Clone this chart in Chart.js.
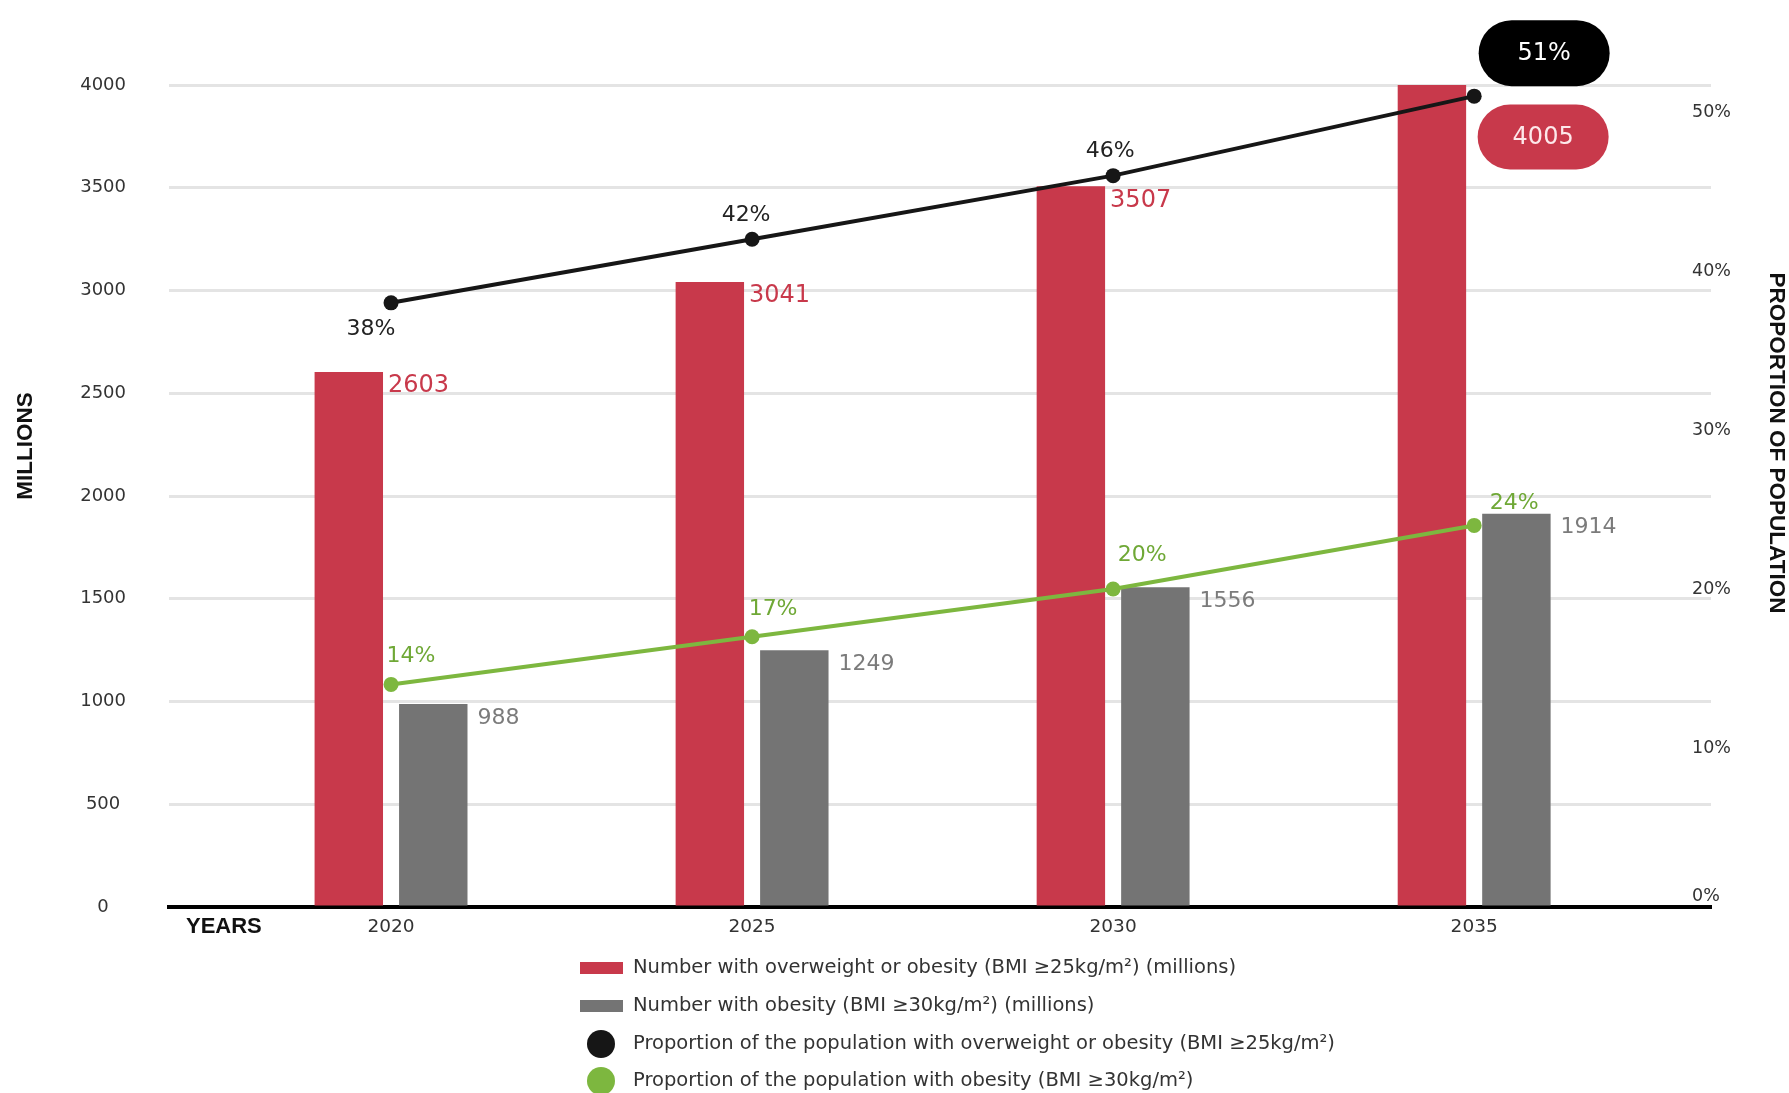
<!DOCTYPE html>
<html>
<head>
<meta charset="utf-8">
<script src="https://cdn.jsdelivr.net/npm/chart.js@4.4.1/dist/chart.umd.min.js"></script>
<style>
  html, body { margin: 0; padding: 0; background: #fff; }
  #wrap { width: 1789px; height: 1093px; }
</style>
</head>
<body>
<div id="wrap"><canvas id="obesityChart" width="1789" height="1093"></canvas></div>
<script>
// data
const years = [2020, 2025, 2030, 2035];
const overweightMillions = [2603, 3041, 3507, 4005];
const obesityMillions = [988, 1249, 1556, 1914];
const overweightShare = [38, 42, 46, 51];
const obesityShare = [14, 17, 20, 24];
const leftTicks = [0, 500, 1000, 1500, 2000, 2500, 3000, 3500, 4000];
const rightTicks = [0, 10, 20, 30, 40, 50];
const seriesNames = [
    'Number with overweight or obesity (BMI \u226525kg/m\u00b2) (millions)',
    'Number with obesity (BMI \u226530kg/m\u00b2) (millions)',
    'Proportion of the population with overweight or obesity (BMI \u226525kg/m\u00b2)',
    'Proportion of the population with obesity (BMI \u226530kg/m\u00b2)'
];

const RED = '#c8394b';
const GREY = '#747474';
const BLACK = '#161616';
const GREEN = '#7db73f';
const FONT = '"DejaVu Sans", sans-serif';
const BOLD = '"Liberation Sans", Arial, sans-serif';

function roundPill(ctx, cx, cy, w, h, fill, text, textColor) {
    const r = h / 2, x = cx - w / 2, y = cy - h / 2;
    ctx.save();
    ctx.fillStyle = fill;
    ctx.beginPath();
    ctx.moveTo(x + r, y);
    ctx.lineTo(x + w - r, y);
    ctx.arc(x + w - r, cy, r, -Math.PI / 2, Math.PI / 2);
    ctx.lineTo(x + r, y + h);
    ctx.arc(x + r, cy, r, Math.PI / 2, Math.PI * 1.5);
    ctx.closePath();
    ctx.fill();
    ctx.fillStyle = textColor;
    ctx.font = '24px ' + FONT;
    ctx.textAlign = 'center';
    ctx.textBaseline = 'middle';
    ctx.fillText(text, cx, cy + 1);
    ctx.restore();
}

function putText(ctx, text, x, y, font, color, align) {
    ctx.font = font;
    ctx.fillStyle = color;
    ctx.textAlign = align;
    ctx.textBaseline = 'middle';
    ctx.fillText(text, x, y);
}

// value labels next to bars and points
const blackOffsets = [[-20, 26], [-6, -24], [-3, -24]];
const greenOffsets = [[20, -28], [21, -27], [29, -34], [40, -22]];

const valueLabels = {
    id: 'valueLabels',
    afterDatasetsDraw(chart) {
        const ctx = chart.ctx;
        ctx.save();
        const red = chart.getDatasetMeta(0).data;
        red.forEach((bar, i) => {
            const right = bar.x + bar.width / 2;
            if (i === red.length - 1) {
                roundPill(ctx, right + 77, bar.y + 53, 131, 65, RED, String(overweightMillions[i]), '#fde8ea');
            } else {
                putText(ctx, String(overweightMillions[i]), right + 5, bar.y + 14, '24px ' + FONT, RED, 'left');
            }
        });
        chart.getDatasetMeta(1).data.forEach((bar, i) => {
            const right = bar.x + bar.width / 2;
            putText(ctx, String(obesityMillions[i]), right + 10, bar.y + 14, '22px ' + FONT, '#7b7b7b', 'left');
        });
        const blk = chart.getDatasetMeta(2).data;
        blk.forEach((pt, i) => {
            if (i === blk.length - 1) {
                roundPill(ctx, pt.x + 70, pt.y - 43, 131, 66, '#000', overweightShare[i] + '%', '#fff');
            } else {
                const o = blackOffsets[i];
                putText(ctx, overweightShare[i] + '%', pt.x + o[0], pt.y + o[1], '22px ' + FONT, '#222', 'center');
            }
        });
        chart.getDatasetMeta(3).data.forEach((pt, i) => {
            const o = greenOffsets[i];
            putText(ctx, obesityShare[i] + '%', pt.x + o[0], pt.y + o[1], '22px ' + FONT, '#6fa836', 'center');
        });
        ctx.restore();
    }
};

// right-hand percent ticks, axis titles and the stacked legend underneath
const frame = {
    id: 'frame',
    afterDraw(chart) {
        const ctx = chart.ctx;
        const area = chart.chartArea;
        const y1 = chart.scales.y1;
        ctx.save();

        rightTicks.forEach(v => {
            const y = Math.min(y1.getPixelForValue(v), area.bottom - 11);
            putText(ctx, v + '%', area.right - 19, y, '17.5px ' + FONT, '#333', 'left');
        });

        ctx.fillStyle = '#111';
        ctx.font = 'bold 22.5px ' + BOLD;
        ctx.textAlign = 'center';
        ctx.textBaseline = 'middle';

        ctx.save();
        ctx.translate(26, 446);
        ctx.rotate(-Math.PI / 2);
        ctx.fillText('MILLIONS', 0, 0);
        ctx.restore();

        ctx.save();
        ctx.translate(1776, 443);
        ctx.rotate(Math.PI / 2);
        ctx.fillText('PROPORTION OF POPULATION', 0, 0);
        ctx.restore();

        ctx.font = 'bold 22px ' + BOLD;
        ctx.textAlign = 'left';
        ctx.fillText('YEARS', 186, 927);

        const rows = [968, 1006, 1044, 1081];
        chart.data.datasets.forEach((ds, i) => {
            const y = rows[i];
            if (ds.type === 'line') {
                ctx.beginPath();
                ctx.arc(601, y, 14, 0, Math.PI * 2);
                ctx.fillStyle = ds.borderColor;
                ctx.fill();
            } else {
                ctx.fillStyle = ds.backgroundColor;
                ctx.fillRect(580, y - 6, 43, 12);
            }
            putText(ctx, ds.label, 633, y, '19.5px ' + FONT, '#333', 'left');
        });
        ctx.restore();
    }
};

const ctx = document.getElementById('obesityChart').getContext('2d');

const obesityChart = new Chart(ctx, {
    type: 'bar',
    data: {
        datasets: [{
            label: seriesNames[0],
            data: years.map((y, i) => ({ x: y, y: overweightMillions[i] })),
            backgroundColor: RED,
            categoryPercentage: 0.468,
            barPercentage: 0.81,
            yAxisID: 'y',
            order: 1
        }, {
            label: seriesNames[1],
            data: years.map((y, i) => ({ x: y, y: obesityMillions[i] })),
            backgroundColor: GREY,
            categoryPercentage: 0.468,
            barPercentage: 0.81,
            yAxisID: 'y',
            order: 1
        }, {
            type: 'line',
            label: seriesNames[2],
            data: years.map((y, i) => ({ x: y, y: overweightShare[i] })),
            borderColor: BLACK,
            backgroundColor: BLACK,
            borderWidth: 4,
            pointRadius: 7.5,
            pointBackgroundColor: BLACK,
            pointBorderWidth: 0,
            tension: 0,
            clip: false,
            yAxisID: 'y1',
            order: 0
        }, {
            type: 'line',
            label: seriesNames[3],
            data: years.map((y, i) => ({ x: y, y: obesityShare[i] })),
            borderColor: GREEN,
            backgroundColor: GREEN,
            borderWidth: 4,
            pointRadius: 7.5,
            pointBackgroundColor: GREEN,
            pointBorderWidth: 0,
            tension: 0,
            clip: false,
            yAxisID: 'y1',
            order: 0
        }]
    },
    options: {
        responsive: false,
        animation: false,
        layout: { padding: { top: 85, bottom: 146, left: 0, right: 0 } },
        plugins: {
            legend: { display: false },
            tooltip: { enabled: false }
        },
        scales: {
            x: {
                type: 'linear',
                min: 2016.925,
                max: 2038.28,
                offset: false,
                afterBuildTicks: axis => { axis.ticks = years.map(v => ({ value: v })); },
                afterFit: axis => { axis.height = 40; },
                grid: { display: false, drawTicks: false },
                border: { display: true, color: '#000', width: 4 },
                ticks: {
                    padding: 9,
                    color: '#333',
                    font: { family: FONT, size: 18.5 },
                    callback: v => String(v)
                }
            },
            y: {
                position: 'left',
                min: 0,
                max: 4000,
                afterBuildTicks: axis => { axis.ticks = leftTicks.map(v => ({ value: v })); },
                afterFit: axis => { axis.width = 169; },
                grid: {
                    drawTicks: false,
                    lineWidth: 3,
                    color: c => c.tick && c.tick.value === 0 ? 'rgba(0,0,0,0)' : '#e4e4e4'
                },
                border: { display: false },
                ticks: {
                    padding: 43,
                    crossAlign: 'center',
                    color: '#333',
                    font: { family: FONT, size: 18 },
                    callback: v => String(v)
                }
            },
            y1: {
                position: 'right',
                min: 0,
                max: 51.7,
                afterBuildTicks: axis => { axis.ticks = rightTicks.map(v => ({ value: v })); },
                afterFit: axis => { axis.width = 78; },
                grid: { display: false, drawTicks: false },
                border: { display: false },
                ticks: { display: false }
            }
        }
    },
    plugins: [valueLabels, frame]
});
</script>
</body>
</html>
